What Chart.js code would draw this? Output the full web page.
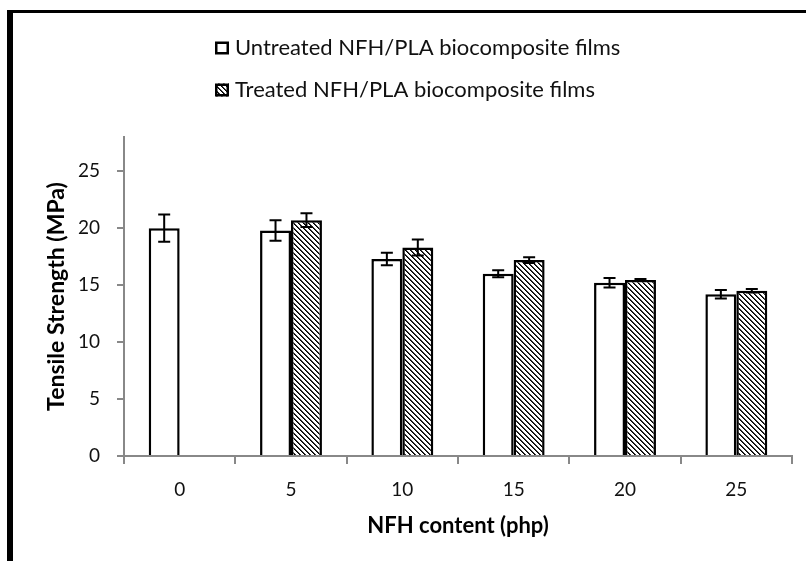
<!DOCTYPE html>
<html>
<head>
<meta charset="utf-8">
<script src="https://cdn.jsdelivr.net/npm/chart.js@4.4.1/dist/chart.umd.min.js"></script>
<style>
  html, body { margin: 0; padding: 0; background: #fff; }
  #wrap { width: 806px; height: 561px; position: relative; }
</style>
</head>
<body>
<div id="wrap"><canvas id="c" width="806" height="561"></canvas></div>
<script>
// ---- Data ----
const categories = ['0', '5', '10', '15', '20', '25'];
const untreatedLabel = 'Untreated NFH/PLA biocomposite films';
const treatedLabel = 'Treated NFH/PLA biocomposite films';
const untreatedValues = [20.0, 19.8, 17.3, 16.0, 15.2, 14.2];
const untreatedErrors = [1.2, 0.9, 0.55, 0.3, 0.42, 0.38];
const treatedValues = [null, 20.7, 18.3, 17.2, 15.45, 14.5];
const treatedErrors = [null, 0.6, 0.7, 0.25, 0.08, 0.15];
const yTickValues = [0, 5, 10, 15, 20, 25];
const yAxisMax = 28;
const xTitle = 'NFH content (php)';
const yTitle = 'Tensile Strength (MPa)';

const FONT = 'Lato, "Open Sans", "Liberation Sans", sans-serif';

// hatch pattern (diagonal "\" lines)
function makeHatch() {
  const n = 5;
  const cv = document.createElement('canvas');
  cv.width = n; cv.height = n;
  const cx = cv.getContext('2d');
  const img = cx.createImageData(n, n);
  for (let y = 0; y < n; y++) {
    for (let x = 0; x < n; x++) {
      const d = ((x - y) % n + n) % n;
      const i = (y * n + x) * 4;
      let v = 255;
      if (d === 0) v = 0;
      else if (d === 1) v = 60;
      img.data[i] = v; img.data[i + 1] = v; img.data[i + 2] = v; img.data[i + 3] = 255;
    }
  }
  cx.putImageData(img, 0, 0);
  return document.getElementById('c').getContext('2d').createPattern(cv, 'repeat');
}
const hatch = makeHatch();

const framePlugin = {
  id: 'frame',
  beforeDraw(chart) {
    const ctx = chart.ctx;
    ctx.save();
    ctx.fillStyle = '#ffffff';
    ctx.fillRect(0, 0, chart.width, chart.height);
    ctx.fillStyle = '#000000';
    ctx.fillRect(7, 10, chart.width - 7, 3);
    ctx.fillRect(7, 10, 6, chart.height - 10);
    ctx.restore();
  }
};

const errorBarPlugin = {
  id: 'errorBars',
  afterDatasetsDraw(chart) {
    const ctx = chart.ctx;
    const yScale = chart.scales.y;
    ctx.save();
    ctx.strokeStyle = '#000';
    ctx.lineWidth = 2;
    chart.data.datasets.forEach((ds, i) => {
      const meta = chart.getDatasetMeta(i);
      meta.data.forEach((el, j) => {
        const v = ds.data[j];
        const e = ds.errors[j];
        if (v == null || e == null) return;
        const x = el.x;
        const yt = yScale.getPixelForValue(v + e);
        const yb = yScale.getPixelForValue(v - e);
        const cap = 6;
        ctx.beginPath();
        ctx.moveTo(x, yt); ctx.lineTo(x, yb);
        ctx.moveTo(x - cap, yt); ctx.lineTo(x + cap, yt);
        ctx.moveTo(x - cap, yb); ctx.lineTo(x + cap, yb);
        ctx.stroke();
      });
    });
    ctx.restore();
  }
};

const legendPlugin = {
  id: 'customLegend',
  afterDraw(chart) {
    const ctx = chart.ctx;
    ctx.save();
    const rows = [48, 90];
    chart.data.datasets.forEach((ds, i) => {
      const cy = rows[i];
      const bx = 215, bw = 14, bh = 13;
      ctx.fillStyle = ds.backgroundColor;
      ctx.fillRect(bx, cy - bh / 2, bw, bh);
      ctx.strokeStyle = '#000';
      ctx.lineWidth = 2.5;
      ctx.strokeRect(bx + 1.25, cy - bh / 2 + 1.25, bw - 2.5, bh - 2.5);
      ctx.fillStyle = '#111111';
      ctx.font = '22px ' + FONT;
      ctx.textAlign = 'left';
      ctx.textBaseline = 'middle';
      ctx.fillText(ds.label, 235, cy);
    });
    ctx.restore();
  }
};

new Chart(document.getElementById('c'), {
  type: 'bar',
  data: {
    labels: categories,
    datasets: [
      {
        label: untreatedLabel,
        data: untreatedValues,
        errors: untreatedErrors,
        backgroundColor: '#ffffff',
        borderColor: '#000000',
        borderWidth: 2.5,
        categoryPercentage: 0.556,
        barPercentage: 1.0
      },
      {
        label: treatedLabel,
        data: treatedValues,
        errors: treatedErrors,
        backgroundColor: hatch,
        borderColor: '#000000',
        borderWidth: 2.5,
        categoryPercentage: 0.556,
        barPercentage: 1.0
      }
    ]
  },
  options: {
    responsive: false,
    animation: false,
    events: [],
    layout: { padding: { top: 137, right: 14, left: 0, bottom: 0 } },
    plugins: {
      legend: { display: false },
      tooltip: { enabled: false },
      title: { display: false }
    },
    scales: {
      x: {
        offset: true,
        grid: {
          offset: true,
          drawOnChartArea: false,
          drawTicks: true,
          tickLength: 8,
          color: '#888888',
          lineWidth: 2
        },
        border: { display: true, color: '#888888', width: 2 },
        ticks: {
          color: '#111111',
          font: { family: FONT, size: 19 },
          padding: 14
        },
        title: {
          display: true,
          text: xTitle,
          color: '#000000',
          font: { family: FONT, size: 22, weight: 'bold' },
          padding: { top: 0, bottom: 22 }
        },
        afterFit(scale) { scale.height = 105; }
      },
      y: {
        min: 0,
        max: yAxisMax,
        grid: {
          drawOnChartArea: false,
          drawTicks: true,
          tickLength: 7,
          color: '#888888',
          lineWidth: 2
        },
        border: { display: true, color: '#888888', width: 2 },
        ticks: {
          stepSize: 5,
          color: '#111111',
          font: { family: FONT, size: 19 },
          padding: 17
        },
        afterBuildTicks(scale) {
          scale.ticks = yTickValues.map(v => ({ value: v }));
        },
        title: {
          display: true,
          text: yTitle,
          color: '#000000',
          font: { family: FONT, size: 23, weight: 'bold' },
          padding: { top: 43, bottom: 0 }
        },
        afterFit(scale) { scale.width = 124; }
      }
    }
  },
  plugins: [framePlugin, errorBarPlugin, legendPlugin]
});
</script>
</body>
</html>
